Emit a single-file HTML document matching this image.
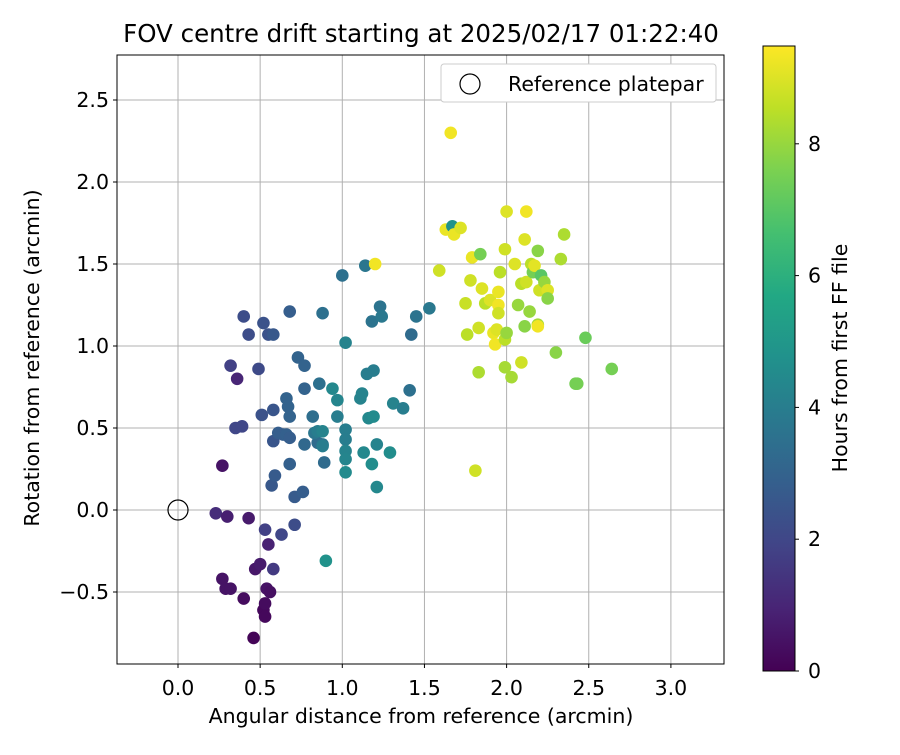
<!DOCTYPE html>
<html><head><meta charset="utf-8"><style>
body{margin:0;background:#fff;font-family:"Liberation Sans","DejaVu Sans",sans-serif}
svg text{font-family:"DejaVu Sans","Liberation Sans",sans-serif}
</style></head><body>
<svg id="chart" width="900" height="750" xmlns="http://www.w3.org/2000/svg">
<defs>
<linearGradient id="vir" x1="0" y1="1" x2="0" y2="0">
<stop offset="0" stop-color="#440154"/><stop offset="0.1" stop-color="#482475"/><stop offset="0.2" stop-color="#414487"/><stop offset="0.3" stop-color="#355f8d"/><stop offset="0.4" stop-color="#2a788e"/><stop offset="0.5" stop-color="#21918c"/><stop offset="0.6" stop-color="#22a884"/><stop offset="0.7" stop-color="#44bf70"/><stop offset="0.8" stop-color="#7ad151"/><stop offset="0.9" stop-color="#bddf26"/><stop offset="1" stop-color="#fde725"/>
</linearGradient>
</defs>
<text x="421" y="42" font-size="24.5" text-anchor="middle">FOV centre drift starting at 2025/02/17 01:22:40</text>
<g id="grid"></g>
<g id="axes"></g>
<g id="points"></g>
<rect x="117" y="55" width="607" height="609" fill="none" stroke="#000" stroke-width="1"/>
<g>
<rect x="441" y="64" width="275" height="38" rx="3" fill="#fff" stroke="#ccc"/>
<circle cx="470" cy="84" r="10" fill="none" stroke="#000" stroke-width="1.2"/>
<text x="508" y="91" font-size="20.5">Reference platepar</text>
</g>
<circle cx="178" cy="510" r="10" fill="none" stroke="#000" stroke-width="1.2"/>
<text x="421" y="723" font-size="20.5" text-anchor="middle">Angular distance from reference (arcmin)</text>
<text transform="translate(39,358) rotate(-90)" font-size="20.5" text-anchor="middle">Rotation from reference (arcmin)</text>
<rect x="763" y="46" width="32" height="625" fill="url(#vir)" stroke="#000" stroke-width="1"/>
<g id="cbticks"></g>
<text transform="translate(847,358) rotate(-90)" font-size="20.5" text-anchor="middle">Hours from first FF file</text>
</svg>
<script>
const xTicks=[0.0,0.5,1.0,1.5,2.0,2.5,3.0];
const yTicks=[-0.5,0.0,0.5,1.0,1.5,2.0,2.5];
const cbTicks=[0,2,4,6,8];
const xs=[0.27,0.23,0.30,0.27,0.29,0.32,0.40,0.43,0.46,0.47,0.50,0.52,0.53,0.53,0.54,0.56,0.55,0.36,
0.53,0.58,0.63,0.71,0.32,0.35,0.39,0.40,0.43,0.49,0.51,0.52,0.55,0.58,0.58,0.58,0.57,0.59,0.61,0.64,0.67,0.66,0.68,0.66,0.68,0.68,0.68,0.71,0.76,0.73,0.77,0.77,0.77,0.82,0.85,0.86,0.88,0.88,0.89,0.83,
0.85,0.88,0.88,0.90,0.94,0.97,0.97,1.00,1.02,1.02,1.02,1.02,1.02,1.02,1.11,1.12,1.13,1.14,1.15,1.16,1.19,1.18,1.19,1.18,1.21,1.21,1.23,1.24,1.20,1.29,1.31,1.37,1.41,1.42,1.45,1.53,
1.59,1.63,1.66,1.67,1.68,1.72,1.75,1.76,1.78,1.79,1.81,1.83,1.83,1.84,1.85,1.87,1.90,1.92,1.93,1.94,1.95,1.95,1.95,1.96,1.99,1.99,1.99,2.00,2.00,2.03,2.05,2.07,2.09,2.09,2.11,2.11,2.12,2.12,2.14,2.15,2.16,2.17,2.19,2.19,2.19,2.20,2.21,2.23,2.25,2.25,2.30,2.33,2.35,2.42,2.43,2.48,2.64];
const ys=[0.27,-0.02,-0.04,-0.42,-0.48,-0.48,-0.54,-0.05,-0.78,-0.36,-0.33,-0.61,-0.57,-0.65,-0.48,-0.50,-0.21,0.80,
-0.12,-0.36,-0.15,-0.09,0.88,0.50,0.51,1.18,1.07,0.86,0.58,1.14,1.07,1.07,0.61,0.42,0.15,0.21,0.47,0.46,0.63,0.68,0.57,0.46,0.44,0.28,1.21,0.08,0.11,0.93,0.88,0.74,0.40,0.57,0.41,0.77,0.40,1.20,0.29,0.47,
0.48,0.48,0.39,-0.31,0.74,0.67,0.57,1.43,1.02,0.49,0.43,0.36,0.31,0.23,0.68,0.71,0.35,1.49,0.83,0.56,0.57,1.15,0.85,0.28,0.40,0.14,1.24,1.18,1.50,0.35,0.65,0.62,0.73,1.07,1.18,1.23,
1.46,1.71,2.30,1.73,1.68,1.72,1.26,1.07,1.40,1.54,0.24,0.84,1.11,1.56,1.35,1.26,1.28,1.08,1.01,1.10,1.25,1.33,1.20,1.45,1.04,1.59,0.87,1.08,1.82,0.81,1.50,1.25,0.90,1.38,1.12,1.65,1.82,1.39,1.21,1.50,1.45,1.49,1.13,1.12,1.58,1.34,1.43,1.39,1.34,1.29,0.96,1.53,1.68,0.77,0.77,1.05,0.86];
const hours=[0.5,1.2,0.8,0.5,0.5,0.5,0.3,0.7,0.1,0.6,0.7,0.2,0.3,0.2,0.5,0.4,0.9,1.0,
1.8,1.6,2.0,2.2,1.8,2.0,2.0,2.2,2.2,2.1,2.4,2.4,2.4,2.6,2.5,2.5,2.6,2.7,2.8,2.8,3.0,3.0,3.0,2.9,2.8,2.9,2.8,2.7,2.8,3.0,3.0,3.0,3.2,3.4,3.3,3.5,3.6,3.5,3.3,3.7,
4.0,4.2,4.0,4.8,4.4,4.3,4.0,3.5,4.2,4.0,4.0,4.2,4.3,4.5,4.2,4.2,4.4,3.7,4.0,4.4,4.5,3.6,4.0,4.6,4.2,4.4,3.6,3.8,9.3,4.6,4.2,4.0,3.5,3.3,3.6,3.8,
8.8,9.2,9.3,4.8,9.2,9.0,8.7,8.5,8.8,9.2,8.8,8.3,8.8,7.5,9.0,8.5,9.0,9.2,9.3,9.0,9.3,9.2,8.8,8.5,8.5,8.8,8.2,8.0,9.0,8.2,9.0,8.0,8.8,8.5,7.8,9.0,9.3,8.8,8.0,8.5,7.5,9.1,8.2,9.3,7.8,8.8,7.0,8.0,9.0,7.8,7.8,8.3,8.3,7.5,7.5,7.3,7.5];
const NS="http://www.w3.org/2000/svg";
const X=v=>178+v*164.3, Y=v=>510-v*164, CB=v=>671-v*65.9, HMAX=9.48;
const vir=["#440154","#482475","#414487","#355f8d","#2a788e","#21918c","#22a884","#44bf70","#7ad151","#bddf26","#fde725"];
function col(h){let t=Math.max(0,Math.min(1,h/HMAX))*10,i=Math.min(9,Math.floor(t)),f=t-i;
const a=vir[i],b=vir[i+1],p=(s,k)=>parseInt(s.substr(k,2),16);
const c=[1,3,5].map(k=>Math.round(p(a,k)+(p(b,k)-p(a,k))*f));return `rgb(${c})`;}
function mk(tag,at,par){const e=document.createElementNS(NS,tag);for(const k in at)e.setAttribute(k,at[k]);par.appendChild(e);return e;}
const grid=document.getElementById('grid'),axes=document.getElementById('axes'),pts=document.getElementById('points'),cbt=document.getElementById('cbticks');
xTicks.forEach(v=>{
const g=mk('line',{x1:X(v),x2:X(v),y1:55,y2:664,stroke:'#b0b0b0','stroke-width':1},grid);


const t=mk('line',{x1:X(v),x2:X(v),y1:664,y2:668,stroke:'#000'},axes);


const l=mk('text',{x:X(v),y:695,'font-size':20.5,'text-anchor':'middle'},axes);l.textContent=v.toFixed(1);


});
yTicks.forEach(v=>{
const g=mk('line',{x1:117,x2:724,y1:Y(v),y2:Y(v),stroke:'#b0b0b0','stroke-width':1},grid);


const t=mk('line',{x1:113,x2:117,y1:Y(v),y2:Y(v),stroke:'#000'},axes);


const l=mk('text',{x:109,y:Y(v)+7,'font-size':20.5,'text-anchor':'end'},axes);l.textContent=(v<0?'\u2212':'')+Math.abs(v).toFixed(1);


});
xs.forEach((x,i)=>{
const c=mk('circle',{cx:X(x),cy:Y(ys[i]),r:6.3,fill:col(hours[i])},pts);


});
cbTicks.forEach(v=>{
const t=mk('line',{x1:795,x2:799,y1:CB(v),y2:CB(v),stroke:'#000'},cbt);


const l=mk('text',{x:808,y:CB(v)+7,'font-size':20.5},cbt);l.textContent=v;


});
</script>
</body></html>
